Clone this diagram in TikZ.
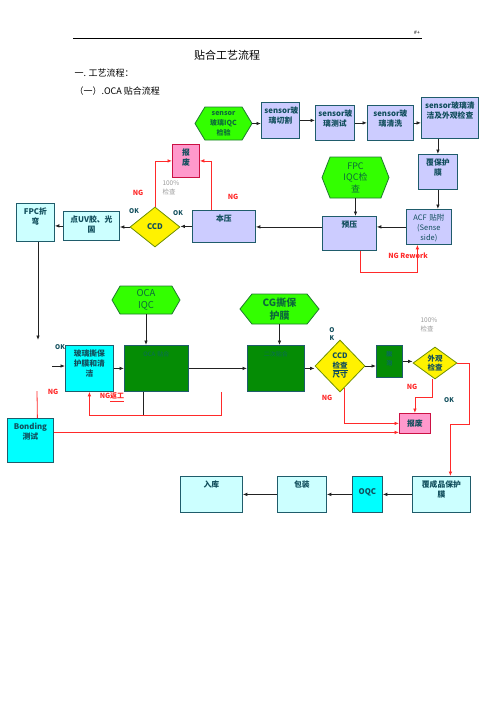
\documentclass[tikz,border=0pt]{standalone}
\usepackage{fontspec}
\setmainfont{Noto Sans CJK SC}
\usetikzlibrary{shapes.geometric,shapes.symbols,arrows.meta}
\definecolor{edgec}{HTML}{1F5C6B}
\definecolor{txtc}{HTML}{114E5C}
\definecolor{lav}{HTML}{CCCCFF}
\definecolor{lcyan}{HTML}{CCFFFF}
\definecolor{cyanb}{HTML}{00FFFF}
\definecolor{dgreen}{HTML}{058C05}
\definecolor{dgtxt}{HTML}{0A6A5A}
\definecolor{hexfill}{HTML}{33FF00}
\definecolor{hexedge}{HTML}{1E7A2E}
\definecolor{hextxt}{HTML}{0C6A3A}
\definecolor{diaedge}{HTML}{6F9000}
\definecolor{pinkb}{HTML}{FF99CC}
\definecolor{pinkedge}{HTML}{CC1144}
\definecolor{ngc}{HTML}{FF2A2A}
\definecolor{grayt}{HTML}{999999}
\definecolor{flowc}{HTML}{222222}
\tikzset{
  >={Latex[length=4.5pt,width=3.6pt]},
}
\tikzstyle{every node}=[font=\bfseries\fontsize{7.8}{10}\selectfont,text=txtc]
\tikzstyle{box}=[draw=edgec,line width=0.8pt,anchor=north west,align=center,inner sep=3pt,text height=8.5pt]
\tikzstyle{hexa}=[signal,signal to=west and east,draw=hexedge,fill=hexfill,line width=0.8pt,align=center,inner sep=0pt,text=hextxt]
\tikzstyle{ccd}=[diamond,draw=diaedge,fill=yellow,line width=0.8pt,align=center,inner sep=0pt]
\tikzstyle{flow}=[draw=flowc,line width=0.8pt,->]
\tikzstyle{ngline}=[draw=ngc,line width=0.8pt,->]
\tikzstyle{ngtext}=[text=ngc,font=\bfseries\fontsize{7}{9}\selectfont]
\tikzstyle{oktext}=[text=txtc,font=\bfseries\fontsize{6.5}{8}\selectfont]
\tikzstyle{pct}=[text=grayt,font=\fontsize{6.5}{9}\selectfont,align=left,anchor=west]

\begin{document}
\begin{tikzpicture}[x=1pt,y=-1pt]
\useasboundingbox (0,0) rectangle (496,702);
% header
\draw[line width=0.5pt] (73,38) -- (422,38);
\node[font=\fontsize{5}{6}\selectfont,text=black] (pg) at (417,33) {\#+};
\node[font=\fontsize{11}{13}\selectfont,text=black] (title) at (227,55) {贴合工艺流程};
\node[anchor=west,font=\fontsize{9}{11}\selectfont,text=black] (sec) at (71,73) {一. 工艺流程：};
\node[anchor=west,font=\fontsize{9}{11}\selectfont,text=black] (sub) at (71,91) {（一）.OCA 贴合流程};

% sensor row
\node[hexa,signal pointer angle=118,minimum width=57pt,minimum height=33pt,font=\bfseries\fontsize{7}{10}\selectfont] (hexS) at (223.5,123.5) {sensor\\玻璃IQC\\检验};
\node[box,fill=lav,text width=32pt,text depth=21.5pt] (cut) at (261,102) {sensor玻\\璃切割};
\node[box,fill=lav,text width=33pt,text depth=20.5pt] (test) at (315,105) {sensor玻\\璃测试};
\node[box,fill=lav,text width=40pt,text depth=20.5pt] (wash) at (367,105) {sensor玻\\璃清洗};
\node[box,fill=lav,text width=51pt,text depth=26.5pt] (clean) at (421,97) {sensor玻璃清\\洁及外观检查};
\node[box,fill=lav,text width=33pt,text depth=20.5pt] (film) at (418,154) {覆保护\\膜};
\node[box,fill=lav,text width=39pt,text depth=20.5pt,font=\fontsize{7.5}{10}\selectfont] (acf) at (406,209) {ACF 贴附\\(Sense\\side)};
\node[hexa,signal pointer angle=137,minimum width=67pt,minimum height=41pt,font=\fontsize{9}{11.5}\selectfont] (hexF) at (355.5,177.5) {FPC\\IQC检\\查};
\node[box,fill=lav,text width=48pt,text depth=19.5pt] (pre) at (322,216) {预压};
\node[box,fill=lav,text width=57pt,text depth=17.5pt] (main) at (192,210) {本压};
\node[box,draw=pinkedge,fill=pinkb,text width=21pt,text depth=18.5pt] (scrap1) at (172,144) {报\\废};
\node[ccd,minimum width=50pt,minimum height=40pt] (ccd1) at (155,227) {CCD};
\node[box,fill=lcyan,text width=50pt,text depth=14.5pt] (uv) at (63,211) {点UV胶、光\\固};
\node[box,fill=lcyan,text width=32pt,text depth=23.5pt] (fpc) at (16,203) {FPC折\\弯};

% lamination row
\node[hexa,signal pointer angle=120,minimum width=68pt,minimum height=28pt,font=\fontsize{9.5}{11.5}\selectfont] (hexO) at (146,300) {OCA\\IQC};
\node[hexa,signal pointer angle=103,minimum width=79pt,minimum height=30pt,font=\bfseries\fontsize{10}{13}\selectfont] (hexC) at (279.5,309) {CG撕保\\护膜};
\node[box,fill=cyanb,text width=42pt,text depth=31.5pt] (peel) at (65,345) {玻璃撕保\\护膜和清\\洁};
\node[box,fill=dgreen,text=dgtxt,text width=58pt,text depth=31.5pt,font=\fontsize{6}{8}\selectfont] (oca) at (124,345) {OCA 贴合};
\node[box,fill=dgreen,text=dgtxt,text width=51pt,text depth=31.5pt,font=\fontsize{6}{8}\selectfont] (lam2) at (247,345) {二次贴合};
\node[ccd,minimum width=50pt,minimum height=52pt,font=\bfseries\fontsize{7.5}{9.5}\selectfont] (ccd2) at (340,366) {CCD\\\underline{检查}\\尺寸};
\node[box,fill=dgreen,text=dgtxt,text width=20pt,text depth=17.5pt,font=\bfseries\fontsize{6}{9}\selectfont] (foam) at (376,345) {脱\\泡};
\node[ccd,minimum width=44pt,minimum height=32pt,font=\bfseries\fontsize{7.5}{9}\selectfont] (look) at (435,363) {外观\\检查};
\node[box,draw=pinkedge,fill=pinkb,text width=25pt,text height=10pt,text depth=4pt] (scrap2) at (399,413) {报废};
\node[box,fill=cyanb,text width=40pt,text depth=29.5pt] (bond) at (7,418) {Bonding\\测试};

% packing row
\node[box,fill=lcyan,text width=52pt,text depth=21.5pt] (pack2) at (412,476) {覆成品保护\\膜};
\node[box,fill=cyanb,text width=24pt,text height=15pt,text depth=15pt] (oqc) at (352,476) {OQC};
\node[box,fill=lcyan,text width=43pt,text depth=21.5pt] (pack) at (277,476) {包装};
\node[box,fill=lcyan,text width=56pt,text depth=21.5pt] (store) at (180,476) {入库};

% labels
\node[oktext] (okA) at (178,213) {OK};
\node[oktext] (okB) at (134,211) {OK};
\node[ngtext] (ngA) at (138,193) {NG};
\node[ngtext] (ngB) at (233,197) {NG};
\node[pct] (pctA) at (159,187.5) {100\%\\检查};
\node[ngtext] (rework) at (408,256) {NG Rework};
\node[oktext] (okC) at (60,347) {OK};
\node[ngtext] (ngC) at (53,392) {NG};
\node[ngtext] (ngD) at (112,397) {NG\underline{返工}};
\node[oktext,align=center,font=\bfseries\fontsize{6.5}{8.5}\selectfont] (okD) at (332,334) {O\\K};
\node[pct] (pctB) at (417,324.5) {100\%\\检查};
\node[ngtext] (ngE) at (412,387) {NG};
\node[ngtext] (ngF) at (327,398) {NG};
\node[oktext] (okE) at (449,400) {OK};

% free ends
\coordinate (fpcend) at (38,340);
\coordinate (okin) at (52,366);
\coordinate (ngtop) at (37,391);
\coordinate (rwtop) at (221,392);

% flow
\draw[flow] (hexS.east) -- (hexS.east -| cut.west);
\draw[flow] (cut.east) -- (cut.east -| test.west);
\draw[flow] (test.east) -- (test.east -| wash.west);
\draw[flow] (wash.east) -- (wash.east -| clean.west);
\draw[flow] (clean.south -| film.north) -- (film.north);
\draw[flow] (film.south) -- (film.south |- acf.north);
\draw[flow] (hexF.south) -- (hexF.south |- pre.north);
\draw[flow] (acf.west) -- (acf.west -| pre.east);
\draw[flow] (acf.west -| pre.west) -- (acf.west -| main.east);
\draw[flow] (main.west) -- (main.west -| ccd1.east);
\draw[flow] (ccd1.west) -- (ccd1.west -| uv.east);
\draw[flow] (uv.west) -- (uv.west -| fpc.east);
\draw[flow] (fpcend |- fpc.south) -- (fpcend);
\draw[flow] (okin) -- (okin -| peel.west);
\draw[flow] (peel.east) -- (peel.east -| oca.west);
\draw[flow] (hexO.south) -- (hexO.south |- oca.north);
\draw[flow] (oca.east) -- (oca.east -| lam2.west);
\draw[flow] (hexC.south) -- (hexC.south |- lam2.north);
\draw[flow] (lam2.east) -- (lam2.east -| ccd2.west);
\draw[flow] (ccd2.east) -- (ccd2.east -| foam.west);
\draw[flow] (foam.east) -- (foam.east -| look.west);
\draw[flow] (pack2.west) -- (pack2.west -| oqc.east);
\draw[flow] (oqc.west) -- (oqc.west -| pack.east);
\draw[flow] (pack.west) -- (pack.west -| store.east);
\draw[flowc,line width=0.8pt] ([xshift=-13pt]oca.south) -- ++(0,24);

% NG paths
\draw[ngline] (ccd1.north) |- (scrap1.west);
\draw[ngline] ([xshift=-12.5pt]main.north) |- (scrap1.east);
\draw[ngline] ([xshift=11pt]pre.south) -- ++(0,22) -| ([xshift=-11.5pt]acf.south);
\draw[ngline] (look.east) -- ++(12,0) -- ++(0,61) -| ([xshift=9pt]pack2.north);
\draw[ngline] ([xshift=-3pt]look.south) -- ++(0,18) -| (scrap2.north);
\draw[ngline] (ccd2.-80) |- (scrap2.west);
\draw[ngline] ([yshift=8pt]bond.east) -- ([yshift=8pt]bond.east -| scrap2.west);
\draw[ngc,line width=0.8pt] ([xshift=7pt]bond.north) -- (ngtop);
\draw[ngline] (rwtop) -- ++(0,23) -| (peel.south);
\end{tikzpicture}
\end{document}
